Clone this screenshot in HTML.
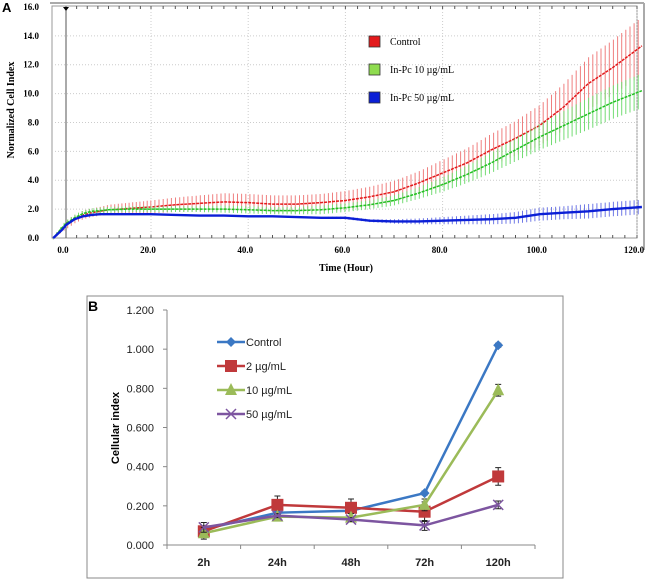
<!DOCTYPE html>
<html><head><meta charset="utf-8"><style>
body{margin:0;background:#fff;width:650px;height:580px;overflow:hidden}
svg{display:block}
.serif{font-family:"Liberation Serif",serif}
.sans{font-family:"Liberation Sans",sans-serif}
</style></head><body>
<svg id="svg" width="650" height="580" xmlns="http://www.w3.org/2000/svg">
<g id="chartA"></g>
<g id="chartB"></g>
</svg>
<script>
// ---------- Chart A data ----------
const timesA = [-3,-1,0,2,4,6,8,10,15,20,25,30,35,40,45,50,55,60,65,70,75,80,85,90,95,100,105,110,115,121];
const controlA = [0,0.6,0.9,1.3,1.6,1.75,1.85,1.95,2.05,2.15,2.3,2.4,2.5,2.45,2.35,2.35,2.45,2.6,2.85,3.2,3.8,4.5,5.2,6.1,6.9,7.8,9.1,10.7,11.8,13.3];
const controlErr = [0.1,0.2,0.3,0.3,0.3,0.3,0.3,0.35,0.4,0.45,0.5,0.55,0.6,0.6,0.6,0.6,0.6,0.65,0.7,0.75,0.8,0.9,1.0,1.1,1.2,1.4,1.6,1.8,1.9,2.0];
const greenA = [0,0.7,1.0,1.4,1.7,1.85,1.9,1.95,2.0,2.0,2.0,2.0,2.0,1.95,1.9,1.9,1.95,2.1,2.3,2.6,3.1,3.7,4.4,5.2,6.1,7.0,7.8,8.6,9.4,10.2];
const greenErr = [0.1,0.15,0.2,0.2,0.2,0.2,0.2,0.2,0.2,0.2,0.2,0.2,0.25,0.25,0.25,0.25,0.3,0.3,0.3,0.35,0.4,0.5,0.6,0.7,0.8,0.9,1.0,1.1,1.15,1.2];
const blueA = [0,0.55,0.9,1.3,1.5,1.6,1.65,1.65,1.65,1.65,1.6,1.55,1.55,1.5,1.5,1.45,1.4,1.4,1.2,1.15,1.15,1.2,1.25,1.3,1.4,1.65,1.75,1.85,2.0,2.15];
const blueErr = [0.05,0.05,0.05,0.05,0.05,0.05,0.05,0.05,0.05,0.05,0.05,0.05,0.05,0.05,0.05,0.05,0.05,0.1,0.1,0.15,0.2,0.25,0.3,0.35,0.4,0.45,0.45,0.5,0.5,0.5];
const yTicksA = ["0.0","2.0","4.0","6.0","8.0","10.0","12.0","14.0","16.0"];
const xTicksA = [0,20,40,60,80,100,120];
const legendA = ["Control","In-Pc 10 µg/mL","In-Pc 50 µg/mL"];

// ---------- Chart B data ----------
const catsB = ["2h","24h","48h","72h","120h"];
const seriesNamesB = ["Control","2 µg/mL","10 µg/mL","50 µg/mL"];
const ctrlB = [0.08,0.165,0.175,0.265,1.02];
const ctrlBErr = [0.01,0.01,0.01,0.01,0.01];
const twoB = [0.07,0.205,0.19,0.17,0.35];
const twoBErr = [0.02,0.045,0.045,0.05,0.045];
const tenB = [0.06,0.145,0.14,0.205,0.79];
const tenBErr = [0.03,0.01,0.02,0.03,0.03];
const fiftyB = [0.09,0.15,0.13,0.10,0.205];
const fiftyBErr = [0.025,0.01,0.01,0.025,0.02];
const yTicksB = [0,0.2,0.4,0.6,0.8,1.0,1.2];

const NS="http://www.w3.org/2000/svg";
function mk(parent,tag,attrs,text){const e=document.createElementNS(NS,tag);for(const k in attrs)e.setAttribute(k,attrs[k]);if(text!==undefined)e.textContent=text;parent.appendChild(e);return e;}

// ===== Chart A =====
(function(){
const g=document.getElementById('chartA');
const L=52,R=637,T=6,B=238;
const xA=t=> t<=20 ? 66+t*4.25 : 151+(t-20)*4.86;
const yA=v=> B-v*14.44;
let e;
e=mk(g,'rect',{x:L,y:T,width:R-L,height:B-T,fill:'#fff',stroke:'#999','stroke-width':1});


e=mk(g,'line',{x1:L-2,y1:3,x2:644,y2:3,stroke:'#aaa','stroke-width':2});


e=mk(g,'line',{x1:644,y1:3,x2:644,y2:250,stroke:'#aaa','stroke-width':2});


for(let i=1;i<yTicksA.length-1;i++){const y=yA(+yTicksA[i]);
 e=mk(g,'line',{x1:L,y1:y,x2:R,y2:y,stroke:'#ccc','stroke-dasharray':'1,2'});
 
 }
xTicksA.forEach(t=>{const x=xA(t);
 e=mk(g,'line',{x1:x,y1:T,x2:x,y2:B,stroke:t===0?'#555':'#ccc','stroke-dasharray':t===0?'':'1,2'});
 
 });
for(let t=0;t<=120;t+=2.5){const x=xA(t);
 e=mk(g,'line',{x1:x,y1:B,x2:x,y2:B-3,stroke:'#555'});
 
 
 e=mk(g,'line',{x1:x,y1:T,x2:x,y2:T+3,stroke:'#555'});
 
 }
mk(g,'path',{d:`M${xA(0)-3} ${T+1}L${xA(0)+3} ${T+1}L${xA(0)} ${T+5}Z`,fill:'#000'});
yTicksA.forEach(s=>{e=mk(g,'text',{x:39,y:yA(+s)+3,'text-anchor':'end','font-size':9,'font-weight':'bold',class:'serif'},s);
 
 });
xTicksA.forEach(t=>{e=mk(g,'text',{x:xA(t)-3,y:253,'text-anchor':'middle','font-size':9,'font-weight':'bold',class:'serif'},t.toFixed(1));
 
 });
e=mk(g,'text',{x:346,y:271,'text-anchor':'middle','font-size':10,'font-weight':'bold',class:'serif'},'Time (Hour)');


e=mk(g,'text',{x:0,y:0,'text-anchor':'middle','font-size':10,'font-weight':'bold',class:'serif',transform:'translate(14,110) rotate(-90)'},'Normalized Cell Index');


e=mk(g,'text',{x:2,y:12,'font-size':13,'font-weight':'bold',class:'sans'},'A');


function interp(arr,t){for(let i=0;i<timesA.length-1;i++){if(t<=timesA[i+1]){const f=(t-timesA[i])/(timesA[i+1]-timesA[i]);return arr[i]+f*(arr[i+1]-arr[i]);}}return arr[arr.length-1];}
const series=[[controlA,controlErr,'#e31a1c','#ef7f7f','series-control'],[greenA,greenErr,'#22c022','#74dc74','series-10ugml'],[blueA,blueErr,'#0b1fd6','#6f78e6','series-50ugml']];
series.forEach(([vals,errs,col,light,name])=>{
 const sg=mk(g,'g',{});
 
 
 let d='';
 for(let t=timesA[0];t<=121;t+=0.85){const v=interp(vals,t),er=interp(errs,t),x=xA(t);
  d+=`M${x.toFixed(1)} ${yA(v+er).toFixed(1)}V${yA(v-er).toFixed(1)}`;}
 e=mk(sg,'path',{d,stroke:light,'stroke-width':1,fill:'none'});
 
 
 e=mk(sg,'polyline',{points:timesA.map((t,i)=>xA(t).toFixed(1)+','+yA(vals[i]).toFixed(1)).join(' '),stroke:col,'stroke-width':name==='series-50ugml'?2.4:1.5,fill:'none','stroke-dasharray':name==='series-50ugml'?'':'3,1'});
 
 
});
const lc=['#e31a1c','#8fdc4f','#0b1fd6'];
legendA.forEach((s,i)=>{const y=41+i*28;
 const lg=mk(g,'g',{});
 
 
 mk(lg,'rect',{x:369,y:y-5,width:11,height:11,fill:lc[i],stroke:'#333','stroke-width':0.8});
 mk(lg,'text',{x:390,y:y+4,'font-size':10,class:'serif'},s);});
})();

// ===== Chart B =====
(function(){
const g=document.getElementById('chartB');
const L=167,R=535,T=310,B=545;
const yB=v=>B-v/1.2*(B-T);
const xB=i=>L+(i+0.5)*(R-L)/catsB.length;
let e;
e=mk(g,'rect',{x:87,y:296,width:476,height:282,fill:'#fff',stroke:'#888','stroke-width':1});


e=mk(g,'text',{x:88,y:311,'font-size':14,'font-weight':'bold',class:'sans'},'B');


e=mk(g,'line',{x1:L,y1:T,x2:L,y2:B,stroke:'#888'});


e=mk(g,'line',{x1:L,y1:B,x2:R,y2:B,stroke:'#888'});


yTicksB.forEach(v=>{const y=yB(v);
 mk(g,'line',{x1:L-4,y1:y,x2:L,y2:y,stroke:'#888'});
 e=mk(g,'text',{x:154,y:y+4,'text-anchor':'end','font-size':11,class:'sans',fill:'#222'},v.toFixed(3));
 
 });
for(let i=0;i<=catsB.length;i++){const x=L+i*(R-L)/catsB.length;mk(g,'line',{x1:x,y1:B,x2:x,y2:B+4,stroke:'#888'});}
catsB.forEach((c,i)=>{e=mk(g,'text',{x:xB(i),y:566,'text-anchor':'middle','font-size':11,'font-weight':'bold',class:'sans',fill:'#222'},c);
 
 });
e=mk(g,'text',{x:0,y:0,'text-anchor':'middle','font-size':11,'font-weight':'bold',class:'sans',transform:'translate(119,428) rotate(-90)'},'Cellular index');


const S=[[ctrlB,ctrlBErr,'#3b78c4','diamond','series-control-b'],[twoB,twoBErr,'#c0393b','square','series-2ugml'],[tenB,tenBErr,'#9bbb59','triangle','series-10ugml-b'],[fiftyB,fiftyBErr,'#7d55a0','x','series-50ugml-b']];
function marker(p,type,x,y,col){
 if(type==='diamond')mk(p,'path',{d:`M${x} ${y-5}L${x+5} ${y}L${x} ${y+5}L${x-5} ${y}Z`,fill:col});
 else if(type==='square')mk(p,'rect',{x:x-6,y:y-6,width:12,height:12,fill:col});
 else if(type==='triangle')mk(p,'path',{d:`M${x} ${y-7}L${x+6} ${y+5}L${x-6} ${y+5}Z`,fill:col});
 else mk(p,'path',{d:`M${x-5} ${y-5}L${x+5} ${y+5}M${x+5} ${y-5}L${x-5} ${y+5}`,stroke:col,'stroke-width':1.5});
}
S.forEach(([vals,errs,col,mtype,name])=>{
 const sg=mk(g,'g',{});
 
 
 vals.forEach((v,i)=>{const x=xB(i),y1=yB(v+errs[i]),y2=yB(v-errs[i]);
  e=mk(sg,'path',{d:`M${x} ${y1}V${y2}M${x-3} ${y1}H${x+3}M${x-3} ${y2}H${x+3}`,stroke:'#222','stroke-width':1});
  
  });
 e=mk(sg,'polyline',{points:vals.map((v,i)=>xB(i)+','+yB(v)).join(' '),stroke:col,'stroke-width':2.5,fill:'none'});
 
 
 vals.forEach((v,i)=>marker(sg,mtype,xB(i),yB(v),col));
});
seriesNamesB.forEach((s,i)=>{const y=342+i*24;const c=S[i][2];
 const lg=mk(g,'g',{});
 
 
 mk(lg,'line',{x1:217,y1:y,x2:245,y2:y,stroke:c,'stroke-width':2.5});
 marker(lg,S[i][3],231,y,c);
 mk(lg,'text',{x:246,y:y+4,'font-size':11,class:'sans',fill:'#222'},s);});
})();
</script>
</body></html>
